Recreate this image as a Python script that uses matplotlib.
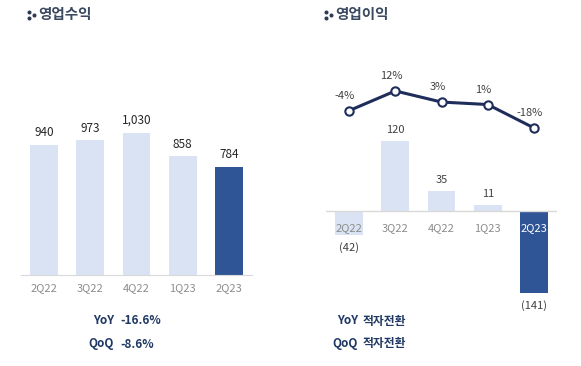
import matplotlib
matplotlib.use("Agg")
import matplotlib.pyplot as plt

plt.rcParams['font.family'] = ['Noto Sans CJK KR', 'DejaVu Sans']

quarters = ["2Q22", "3Q22", "4Q22", "1Q23", "2Q23"]
revenue = [940, 973, 1030, 858, 784]
op_income = [-42, 120, 35, 11, -141]
op_margin = [-4, 12, 3, 1, -18]
rev_summary = [("YoY", "-16.6%"), ("QoQ", "-8.6%")]
op_summary = [("YoY", "적자전환"), ("QoQ", "적자전환")]

W, H = 581, 366
LIGHT = "#DAE3F3"
DARK = "#2F5597"
NAVY = "#1F2D5A"
TXT = "#1F3864"
GREY = "#8C8C8C"

fig = plt.figure(figsize=(W / 100, H / 100), dpi=100)


def px_axes(x0, y0, x1, y1):
    return fig.add_axes([x0 / W, 1 - y1 / H, (x1 - x0) / W, (y1 - y0) / H])


x = list(range(len(quarters)))
colors = [LIGHT] * (len(quarters) - 1) + [DARK]

# ---- Left: 영업수익 ----
ax1 = px_axes(20.9, 120, 252.1, 275)
ax1.bar(x, revenue, width=0.6, color=colors)
ax1.set_xlim(-0.5, 4.5)
ax1.set_ylim(0, 1121)
for s in ["top", "right", "left"]:
    ax1.spines[s].set_visible(False)
ax1.spines["bottom"].set_color("#D9D9D9")
ax1.set_yticks([])
ax1.set_xticks(x)
ax1.set_xticklabels(quarters, fontsize=8, color=GREY)
ax1.tick_params(axis="x", length=0, pad=6)
for xi, v in zip(x, revenue):
    ax1.annotate(f"{v:,}", (xi, v), xytext=(0, 4), textcoords="offset points",
                 ha="center", va="bottom", fontsize=8.5, color="#262626",
                 fontweight="medium")

# ---- Right: 영업이익 ----
ax2 = px_axes(325.9, 60, 557.1, 300)
ax2.bar(x, op_income, width=0.6, color=colors)
ax2.set_xlim(-0.5, 4.5)
ax2.set_ylim(-152.6, 258.9)
ax2.axis("off")
ax2.axhline(0, color="#D9D9D9", lw=1)
for xi, (q, v) in enumerate(zip(quarters, op_income)):
    ax2.annotate(q, (xi, 0), xytext=(0, -12), textcoords="offset points",
                 ha="center", va="center", fontsize=8,
                 color="white" if xi == len(quarters) - 1 else GREY)
    if v >= 0:
        ax2.annotate(f"{v:,}", (xi, v), xytext=(0, 4), textcoords="offset points",
                     ha="center", va="bottom", fontsize=8, color="#404040")
    else:
        ax2.annotate(f"({abs(v):,})", (xi, v), xytext=(0, -5), textcoords="offset points",
                     ha="center", va="top", fontsize=8, color="#404040")

ax3 = ax2.twinx()
ax3.set_ylim(-157.5, 37.1)
ax3.axis("off")
ax3.plot(x, op_margin, color=NAVY, lw=2.2, marker="o", markersize=6,
         markerfacecolor="white", markeredgecolor=NAVY, markeredgewidth=1.5, zorder=5)
for xi, m in zip(x, op_margin):
    ax3.annotate(f"{m}%", (xi, m), xytext=(-3, 7), textcoords="offset points",
                 ha="center", va="bottom", fontsize=8, color="#404040")

# ---- Titles with dotted icon ----
deco = fig.add_axes([0, 0, 1, 1], zorder=-1)
deco.set_xlim(0, W)
deco.set_ylim(H, 0)
deco.axis("off")


def title(xi, xt, text):
    deco.plot([xi, xi, xi + 4.5], [11.5, 17.5, 14.5], linestyle="none", marker="o",
              markersize=1.9, color="#2F3B52")
    fig.text(xt / W, 1 - 14.5 / H, text, fontsize=10.5, fontweight="bold",
             color="#3B4A60", ha="left", va="center")


title(29, 38, "영업수익")
title(326, 335, "영업이익")

# ---- Summaries ----
for (lab, val), yy in zip(rev_summary, [321, 344]):
    fig.text(114 / W, 1 - yy / H, lab, fontsize=8.5, fontweight="bold", color=TXT, ha="right", va="center")
    fig.text(120 / W, 1 - yy / H, val, fontsize=8.5, fontweight="bold", color=TXT, ha="left", va="center")
for (lab, val), yy in zip(op_summary, [321, 344]):
    fig.text(358 / W, 1 - yy / H, lab, fontsize=8.5, fontweight="bold", color=TXT, ha="right", va="center")
    fig.text(363 / W, 1 - yy / H, val, fontsize=8.5, fontweight="bold", color=TXT, ha="left", va="center")

fig.savefig("out.png", dpi=100)
